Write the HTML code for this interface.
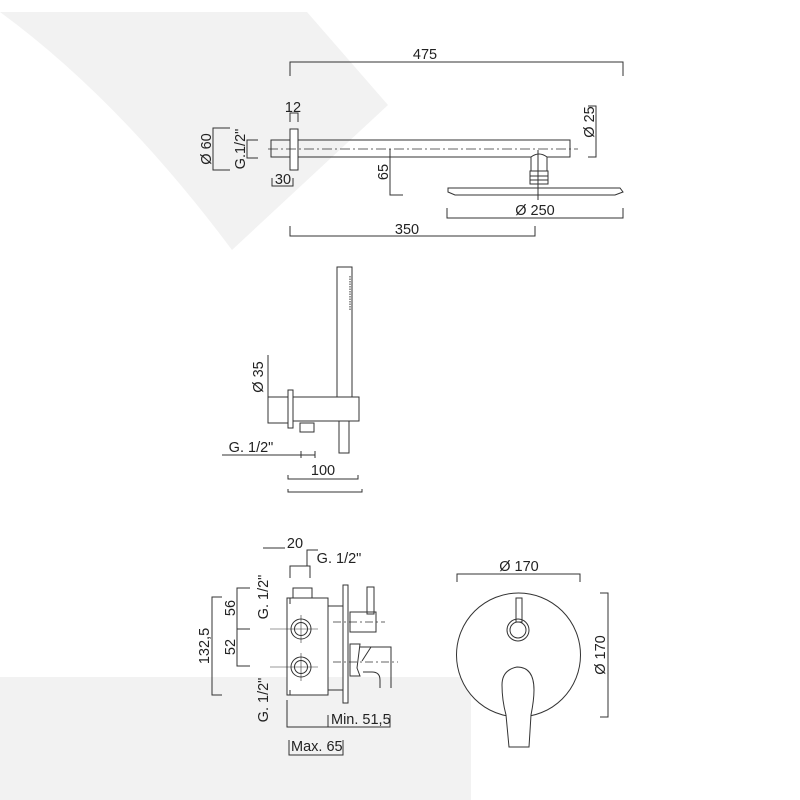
<!DOCTYPE html>
<html><head><meta charset="utf-8"><style>
html,body{margin:0;padding:0;background:#fff}
svg{display:block}
text{font-family:"Liberation Sans",sans-serif;fill:#222;font-size:14.5px}
</style></head><body>
<svg width="800" height="800" viewBox="0 0 800 800" xmlns="http://www.w3.org/2000/svg">
<path d="M0,12 L307,12 L388,105 L232,250 Q120,100 0,12Z" fill="#f2f2f2"/>
<rect x="0" y="677" width="471" height="123" fill="#f2f2f2"/>
<g fill="none" stroke="#333" stroke-width="1">
<path d="M290,76V62H623V76"/>
<rect x="290" y="129" width="8" height="41" fill="#fff"/>
<rect x="271" y="140" width="19" height="17" fill="none"/>
<rect x="298" y="140" width="272" height="17"/>
<path d="M268,149H578" stroke-dasharray="10,3,2,3" stroke-width="0.8"/>
<path d="M290,122V113H298V122"/>
<path d="M230,128H213V170H230"/>
<path d="M258,140H247V158H258"/>
<path d="M272,178V186H293V178"/>
<path d="M390,149V195H403"/>
<path d="M588,106H596V157H588"/>
<path d="M531,157q8,-6 16,0v14h-16z" fill="#fff"/>
<rect x="530" y="171" width="18" height="13"/>
<path d="M530,176H548M530,180H548"/>
<path d="M448,188H620L623,192L615,195H455L448,192Z" fill="#fff"/>
<path d="M538,150V200"/>
<path d="M447,208V218H623V208"/>
<path d="M290,226V236H535V226"/>
<rect x="337" y="267" width="15" height="131" fill="#fff"/>
<path d="M350,276V310" stroke-dasharray="1.5,1"/>
<rect x="288" y="390" width="5" height="38" fill="#fff"/>
<rect x="293" y="397" width="66" height="24" fill="#fff"/>
<rect x="300" y="423" width="14" height="9"/>
<rect x="339" y="421" width="10" height="32"/>
<path d="M268,355V423H288M268,397H288"/>
<path d="M222,455H315M301,451V458M315,451V458"/>
<path d="M288,475V479H358V475"/>
<path d="M288,489V492H362V489"/>
<path d="M263,548H285M307,566V550H318"/>
<path d="M290,578V566H310V578"/>
<rect x="293" y="588" width="19" height="10"/>
<rect x="287" y="598" width="41" height="97" fill="#fff"/>
<path d="M290,598V604M290,690V695M328,606H343M328,690H343"/>
<circle cx="301" cy="629" r="10"/><circle cx="301" cy="629" r="6.5"/>
<circle cx="301" cy="667" r="10"/><circle cx="301" cy="667" r="6.5"/>
<path d="M270,629H318M270,667H318M301,615V643M301,653V681" stroke-width="0.6"/>
<rect x="343" y="585" width="5" height="118" fill="#fff"/>
<rect x="367" y="587" width="7" height="27"/>
<rect x="350" y="612" width="26" height="20"/>
<path d="M333,622H385" stroke-dasharray="8,3,2,3" stroke-width="0.7"/>
<path d="M350,644H360L357,668L360,676H350Z"/>
<path d="M360,647H391V688M362,661L371,647M380,688V680Q380,672 372,672H363"/>
<path d="M333,662H398" stroke-dasharray="8,3,2,3" stroke-width="0.7"/>
<path d="M250,588H237V666H250M237,629H250"/>
<path d="M222,597H212V695H222"/>
<path d="M287,700V727H390V715M328,715V727"/>
<path d="M289,740V755H343V740"/>
<path d="M457,582V574H580V582"/>
<circle cx="518.5" cy="655" r="62" fill="#fff"/>
<path d="M600,593H608V717H600"/>
<rect x="516" y="598" width="6" height="24" fill="#fff"/>
<circle cx="518" cy="630" r="11"/><circle cx="518" cy="630" r="8"/>
<path d="M509,747H529L531,715Q534,700 534,690Q534,667 517,667Q502,670 502,685Q502,700 506,715Z" fill="#fff"/>
</g>
<text x="425" y="59" text-anchor="middle">475</text>
<text x="293" y="112" text-anchor="middle">12</text>
<text x="283" y="184" text-anchor="middle">30</text>
<text transform="translate(211,149) rotate(-90)" text-anchor="middle">Ø 60</text>
<text transform="translate(245,149) rotate(-90)" text-anchor="middle">G.1/2"</text>
<text transform="translate(388,172) rotate(-90)" text-anchor="middle">65</text>
<text transform="translate(594,122) rotate(-90)" text-anchor="middle">Ø 25</text>
<text x="535" y="215" text-anchor="middle">Ø 250</text>
<text x="407" y="234" text-anchor="middle">350</text>
<text transform="translate(263,377) rotate(-90)" text-anchor="middle">Ø 35</text>
<text x="251" y="452" text-anchor="middle">G. 1/2"</text>
<text x="323" y="475" text-anchor="middle">100</text>
<text x="295" y="548" text-anchor="middle">20</text>
<text x="339" y="563" text-anchor="middle">G. 1/2"</text>
<text transform="translate(268,597) rotate(-90)" text-anchor="middle">G. 1/2"</text>
<text transform="translate(268,700) rotate(-90)" text-anchor="middle">G. 1/2"</text>
<text transform="translate(235,608) rotate(-90)" text-anchor="middle">56</text>
<text transform="translate(235,647) rotate(-90)" text-anchor="middle">52</text>
<text transform="translate(209,646) rotate(-90)" text-anchor="middle">132,5</text>
<text x="331" y="724">Min. 51,5</text>
<text x="291" y="751">Max. 65</text>
<text x="519" y="571" text-anchor="middle">Ø 170</text>
<text transform="translate(605,655) rotate(-90)" text-anchor="middle">Ø 170</text>
</svg>
</body></html>
